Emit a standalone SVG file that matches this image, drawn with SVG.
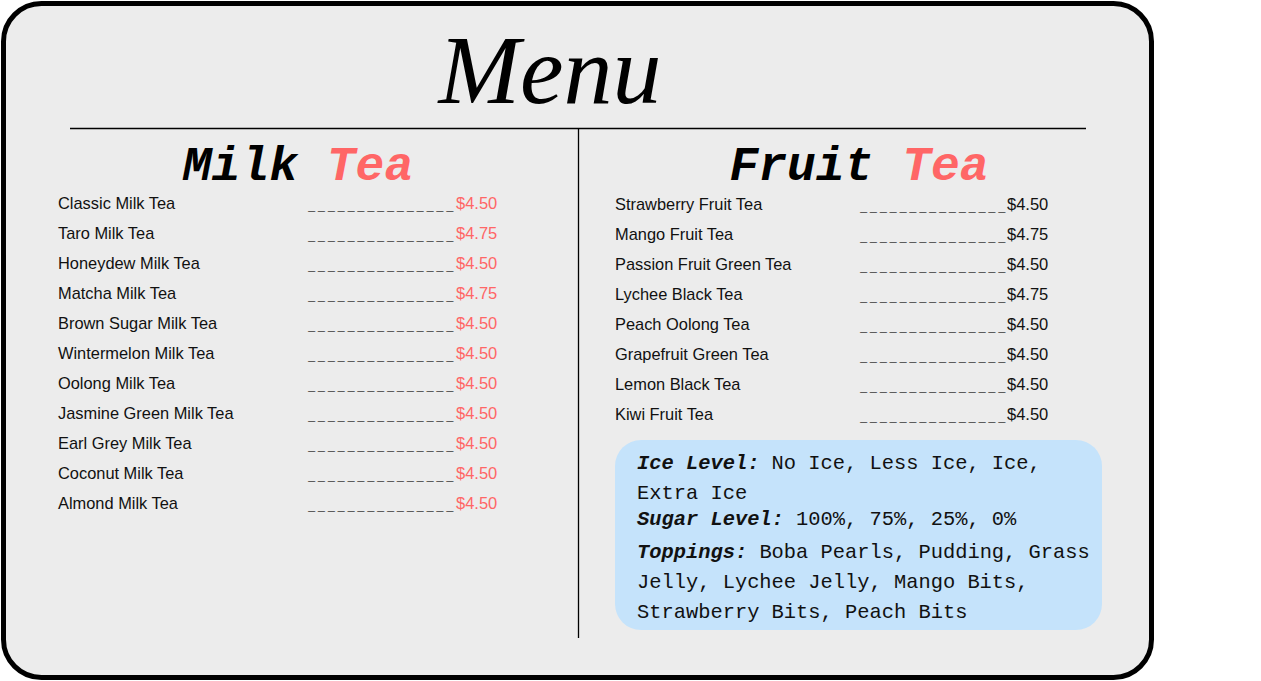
<svg xmlns="http://www.w3.org/2000/svg" width="1261" height="681" viewBox="0 0 1261 681">
<style>
.item{font-family:"Liberation Sans",Arial,sans-serif;font-size:16.4px;fill:#111}
.dash{font-family:"Liberation Mono",monospace;font-size:12px;font-weight:bold;letter-spacing:2.67px;fill:#111}
.pr{font-family:"Liberation Sans",Arial,sans-serif;font-size:16.5px;fill:#ff6666}
.pb{font-family:"Liberation Sans",Arial,sans-serif;font-size:16.5px;fill:#111}
.hd{font-family:"Liberation Mono",monospace;font-size:48px;font-weight:bold;font-style:italic}
.info{font-family:"Liberation Mono",monospace;font-size:20.4px;fill:#111}
.lbl{font-weight:bold;font-style:italic}
.rule{stroke:#000;stroke-width:1.3}
</style>
<rect width="1261" height="681" fill="#ffffff"/>
<g id="frame">
<rect x="3.5" y="3.5" width="1148" height="674" rx="38" fill="#ececec" stroke="#000" stroke-width="5"/>
</g>
<g id="title">
<text x="550" y="103" text-anchor="middle" font-family="Liberation Serif,serif" font-style="italic" font-size="98" fill="#000">Menu</text>
</g>
<g id="connectors">
<line class="rule" x1="70" y1="128.5" x2="1086" y2="128.5"/>
<line class="rule" x1="578.5" y1="128" x2="578.5" y2="638"/>
</g>
<g id="milk-tea">
<text class="hd" x="298" y="180" text-anchor="middle"><tspan fill="#000">Milk </tspan><tspan fill="#ff6666">Tea</tspan></text>
<text class="item" x="58" y="209">Classic Milk Tea</text>
<text class="item" x="58" y="239">Taro Milk Tea</text>
<text class="item" x="58" y="269">Honeydew Milk Tea</text>
<text class="item" x="58" y="299">Matcha Milk Tea</text>
<text class="item" x="58" y="329">Brown Sugar Milk Tea</text>
<text class="item" x="58" y="359">Wintermelon Milk Tea</text>
<text class="item" x="58" y="389">Oolong Milk Tea</text>
<text class="item" x="58" y="419">Jasmine Green Milk Tea</text>
<text class="item" x="58" y="449">Earl Grey Milk Tea</text>
<text class="item" x="58" y="479">Coconut Milk Tea</text>
<text class="item" x="58" y="509">Almond Milk Tea</text>
<text class="dash" x="308" y="210">_______________</text>
<text class="dash" x="308" y="240">_______________</text>
<text class="dash" x="308" y="270">_______________</text>
<text class="dash" x="308" y="300">_______________</text>
<text class="dash" x="308" y="330">_______________</text>
<text class="dash" x="308" y="360">_______________</text>
<text class="dash" x="308" y="390">_______________</text>
<text class="dash" x="308" y="420">_______________</text>
<text class="dash" x="308" y="450">_______________</text>
<text class="dash" x="308" y="480">_______________</text>
<text class="dash" x="308" y="510">_______________</text>
<text class="pr" x="456" y="209">$4.50</text>
<text class="pr" x="456" y="239">$4.75</text>
<text class="pr" x="456" y="269">$4.50</text>
<text class="pr" x="456" y="299">$4.75</text>
<text class="pr" x="456" y="329">$4.50</text>
<text class="pr" x="456" y="359">$4.50</text>
<text class="pr" x="456" y="389">$4.50</text>
<text class="pr" x="456" y="419">$4.50</text>
<text class="pr" x="456" y="449">$4.50</text>
<text class="pr" x="456" y="479">$4.50</text>
<text class="pr" x="456" y="509">$4.50</text>
</g>
<g id="fruit-tea">
<text class="hd" x="859" y="180" text-anchor="middle"><tspan fill="#000">Fruit </tspan><tspan fill="#ff6666">Tea</tspan></text>
<text class="item" x="615" y="210">Strawberry Fruit Tea</text>
<text class="item" x="615" y="240">Mango Fruit Tea</text>
<text class="item" x="615" y="270">Passion Fruit Green Tea</text>
<text class="item" x="615" y="300">Lychee Black Tea</text>
<text class="item" x="615" y="330">Peach Oolong Tea</text>
<text class="item" x="615" y="360">Grapefruit Green Tea</text>
<text class="item" x="615" y="390">Lemon Black Tea</text>
<text class="item" x="615" y="420">Kiwi Fruit Tea</text>
<text class="dash" x="860" y="211">_______________</text>
<text class="dash" x="860" y="241">_______________</text>
<text class="dash" x="860" y="271">_______________</text>
<text class="dash" x="860" y="301">_______________</text>
<text class="dash" x="860" y="331">_______________</text>
<text class="dash" x="860" y="361">_______________</text>
<text class="dash" x="860" y="391">_______________</text>
<text class="dash" x="860" y="421">_______________</text>
<text class="pb" x="1007" y="210">$4.50</text>
<text class="pb" x="1007" y="240">$4.75</text>
<text class="pb" x="1007" y="270">$4.50</text>
<text class="pb" x="1007" y="300">$4.75</text>
<text class="pb" x="1007" y="330">$4.50</text>
<text class="pb" x="1007" y="360">$4.50</text>
<text class="pb" x="1007" y="390">$4.50</text>
<text class="pb" x="1007" y="420">$4.50</text>
</g>
<g id="options">
<rect x="615" y="440" width="487" height="190" rx="26" fill="#c5e3fb"/>
<text class="info" x="637" y="469"><tspan class="lbl">Ice Level:</tspan> No Ice, Less Ice, Ice,</text>
<text class="info" x="637" y="499">Extra Ice</text>
<text class="info" x="637" y="525"><tspan class="lbl">Sugar Level:</tspan> 100%, 75%, 25%, 0%</text>
<text class="info" x="637" y="558"><tspan class="lbl">Toppings:</tspan> Boba Pearls, Pudding, Grass</text>
<text class="info" x="637" y="588">Jelly, Lychee Jelly, Mango Bits,</text>
<text class="info" x="637" y="618">Strawberry Bits, Peach Bits</text>
</g>
</svg>
